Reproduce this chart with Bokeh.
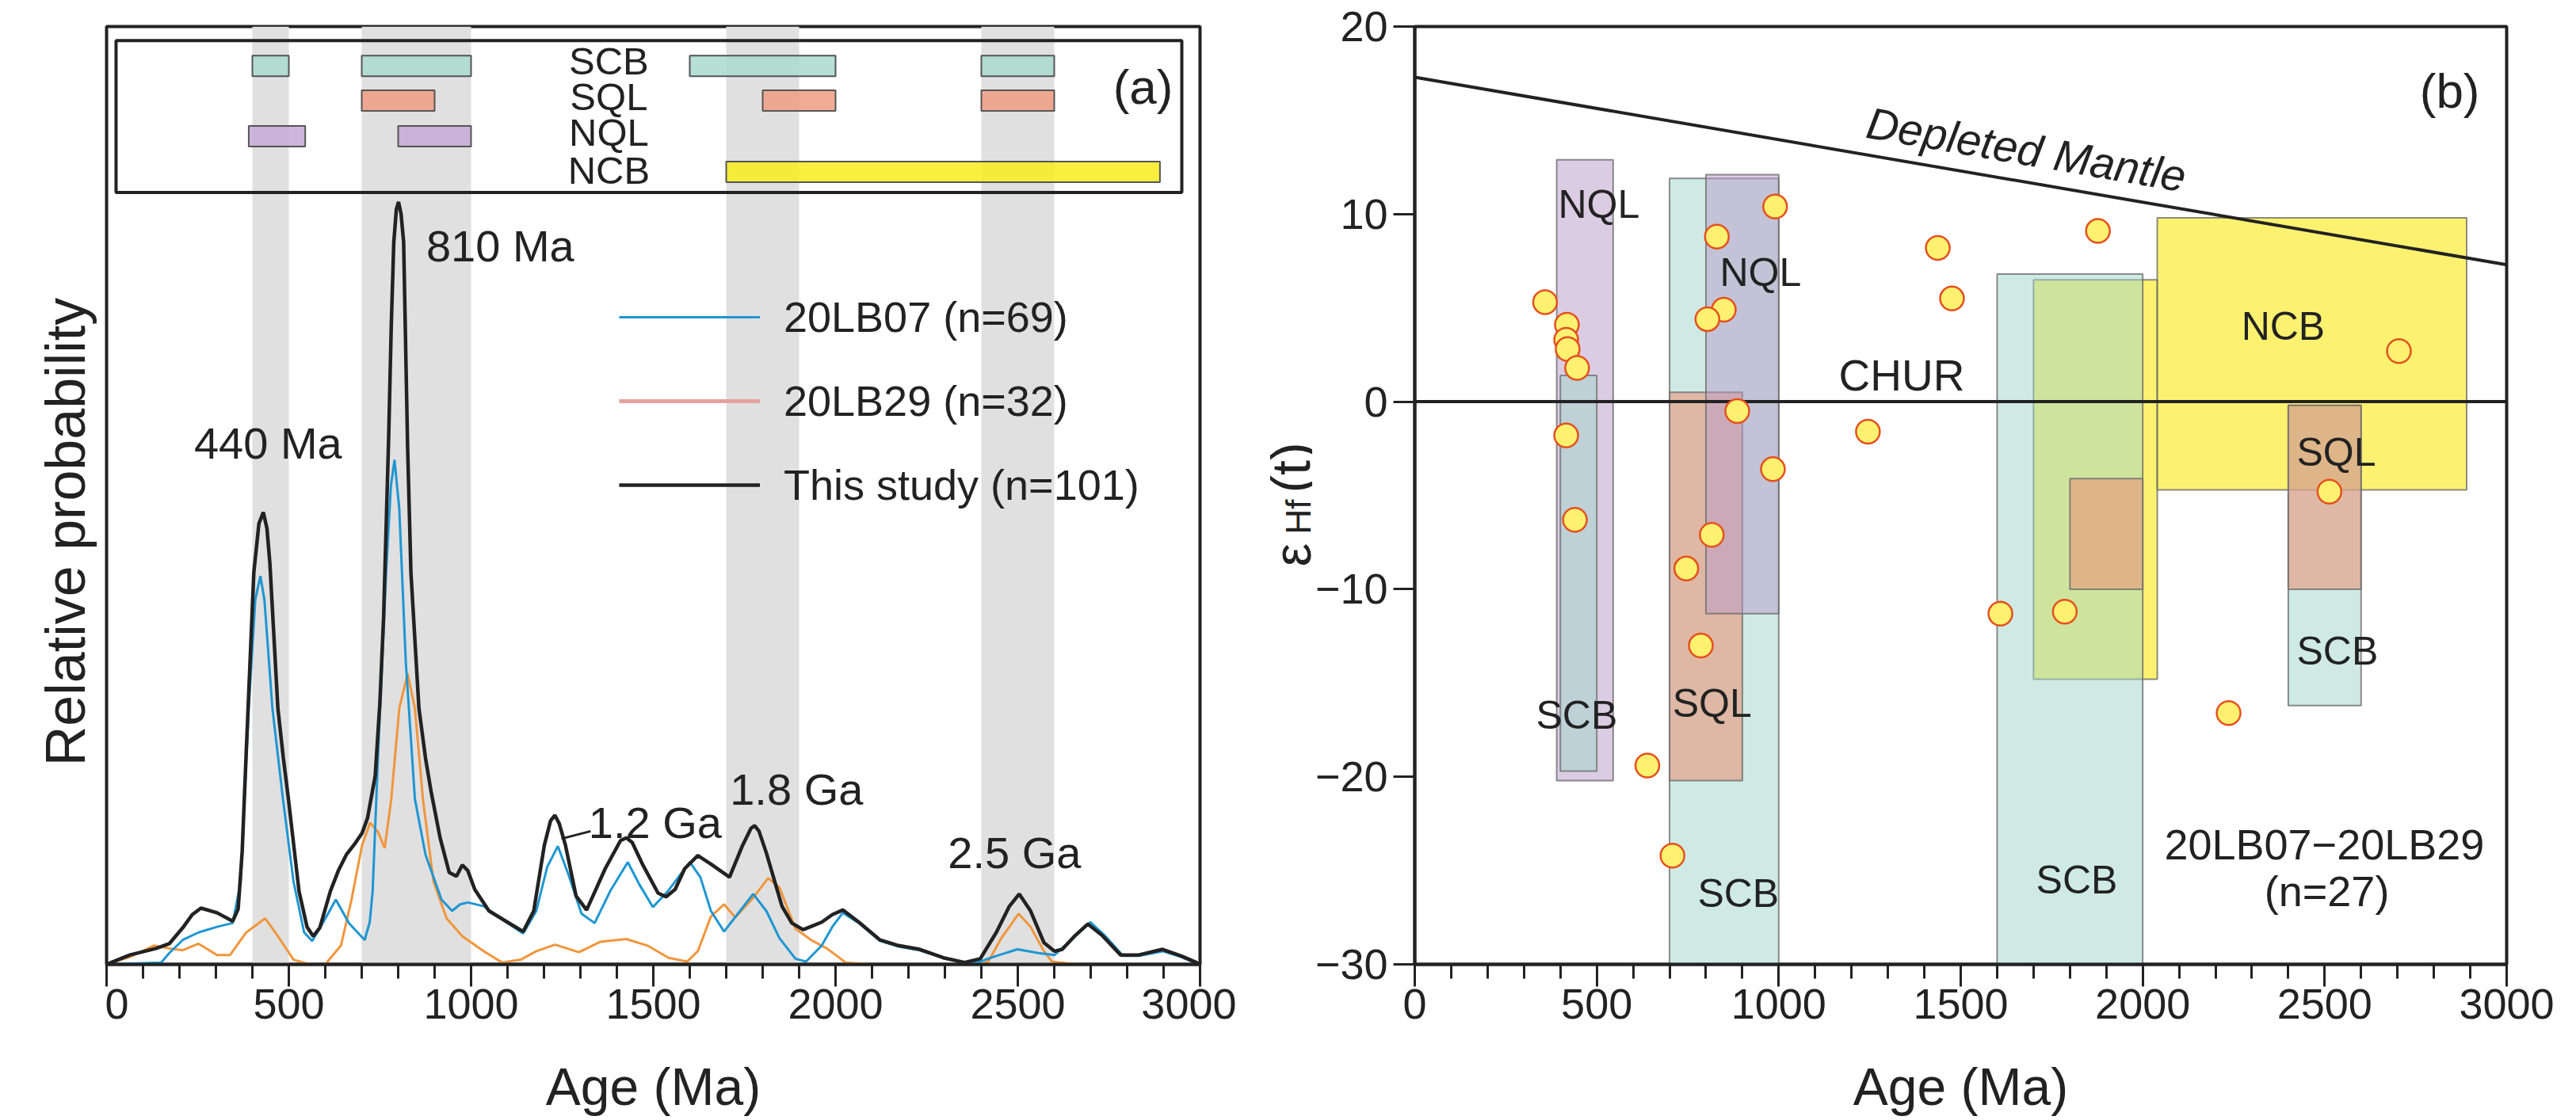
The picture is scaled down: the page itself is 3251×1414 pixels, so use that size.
import math
from bokeh.plotting import figure
from bokeh.models import (Range1d, SingleIntervalTicker, FixedTicker, Legend, LegendItem,
                          BoxAnnotation, ColumnDataSource)
from bokeh.layouts import row
from bokeh.embed import file_html
from bokeh.resources import INLINE
from bokeh.core.properties import value

FONT = "Liberation Sans"
INK = "#222222"

# ---------------- Panel (a) data: probability density curves ----------------
black_age = [0, 64, 136, 172, 209, 235, 259, 303, 346, 361, 372, 383, 404, 418, 430, 440, 448, 470, 485, 499,
             528, 550, 567, 585, 614, 636, 658, 680, 701, 716, 737, 750, 760, 774, 781, 788, 795, 801, 808, 815,
             826, 835, 857, 875, 890, 915, 940, 960, 976, 991, 1010, 1049, 1100, 1143, 1172, 1201, 1218, 1230,
             1242, 1259, 1288, 1317, 1368, 1410, 1426, 1442, 1470, 1513, 1535, 1560, 1586, 1622, 1658, 1709,
             1745, 1768, 1778, 1790, 1810, 1853, 1880, 1911, 1962, 1991, 2020, 2064, 2122, 2173, 2231, 2296,
             2354, 2397, 2441, 2477, 2504, 2535, 2572, 2601, 2622, 2658, 2692, 2731, 2782, 2832, 2897, 2948,
             2990, 3000]
black_prob = [0, 1.0, 1.7, 2.2, 3.9, 5.3, 6.0, 5.5, 4.6, 5.9, 12, 22.5, 41.8, 47, 48.2, 46.5, 42.8, 27.3, 22, 17.6,
              7.8, 4.0, 3.0, 3.9, 7.8, 10, 11.7, 12.8, 14.0, 15.6, 20.1, 28, 37, 56.3, 68, 77, 80.5, 81.3, 80, 77,
              55, 41.8, 27.3, 22, 18.5, 13.5, 9.8, 9.4, 10.6, 10.0, 8.0, 5.7, 4.5, 3.5, 5.7, 12.7, 15.3, 15.9,
              15.0, 12.7, 7.3, 5.8, 10.2, 13.2, 13.5, 13.0, 10.7, 7.6, 7.2, 8.0, 10.2, 11.6, 10.7, 9.3,
              12.7, 14.5, 14.8, 14.2, 11.9, 6.2, 4.4, 3.7, 4.5, 5.3, 5.8, 4.5, 2.6, 2.0, 1.6, 0.7,
              0.2, 0.6, 3.4, 6.2, 7.5, 5.7, 2.3, 1.4, 1.6, 3.1, 4.3, 3.1, 1.0, 1.0, 1.6, 0.9,
              0.2, 0]

blue_age = [0, 150, 172, 209, 252, 303, 346, 368, 390, 408, 422, 433, 455, 484, 513, 542, 564, 593, 629, 665,
            708, 722, 730, 745, 767, 780, 790, 803, 821, 846, 875, 919, 948, 970, 991, 1035, 1085, 1143, 1179,
            1209, 1238, 1267, 1303, 1339, 1383, 1430, 1462, 1499, 1542, 1600, 1629, 1658, 1694, 1738, 1774,
            1810, 1846, 1890, 1919, 1962, 1991, 2020, 2064, 2122, 2173, 2231, 2296, 2354, 2397, 2441, 2499,
            2557, 2601, 2658, 2699, 2738, 2789, 2832, 2897, 2948, 2990]
blue_prob = [0, 0.2, 1.2, 2.6, 3.4, 4.0, 4.4, 8.8, 27.3, 38.9, 41.4, 38.9, 27.3, 17.6, 8.8, 3.4, 2.5, 4.4, 6.9, 4.4,
             2.6, 4.5, 7.8, 22.5, 41.8, 51.0, 53.8, 48.6, 32.2, 17.6, 11.7, 6.9, 5.7, 6.4, 6.6, 6.2, 4.8, 3.3, 5.7,
             10.4, 12.6, 9.6, 5.4, 4.4, 7.9, 10.9, 8.5, 6.1, 7.9, 10.9, 9.3, 5.7, 3.5, 5.7, 7.5,
             5.7, 2.8, 0.6, 0.3, 2.0, 4.0, 5.5, 4.4, 2.5, 1.9, 1.5, 0.7, 0.2, 0.3, 0.9, 1.6,
             1.2, 1.0, 3.0, 4.5, 3.1, 0.9, 0.9, 1.4, 0.8, 0.1]

orange_age = [0, 64, 130, 172, 209, 252, 303, 339, 383, 435, 470, 513, 557, 600, 643, 672, 701, 723, 745, 763,
              781, 803, 826, 846, 868, 897, 933, 976, 1035, 1085, 1136, 1179, 1230, 1296, 1354, 1426, 1484,
              1542, 1593, 1622, 1658, 1694, 1725, 1774, 1815, 1846, 1890, 1933, 1976, 2004, 2027, 2100, 2400,
              2419, 2455, 2502, 2535, 2572, 2593, 2660]
orange_prob = [0, 0.8, 2.0, 1.7, 1.5, 2.2, 1.0, 1.0, 3.4, 4.9, 3.0, 0.5, 0, 0, 2.0, 6.9, 12.7, 15.1, 14.1, 12.4,
               17.6, 27.3, 31.0, 27.3, 17.6, 8.8, 4.9, 3.0, 1.4, 0.2, 0.5, 1.4, 2.1, 1.3, 2.4, 2.7, 2.0,
               0.7, 0.3, 1.4, 5.1, 6.4, 5.0, 7.1, 9.2, 8.2, 3.8, 2.6, 1.7, 0.9, 0.2, 0, 0,
               0.3, 2.8, 5.4, 4.0, 1.4, 0.3, 0]

band_start = [400, 700, 1700, 2400]
band_end = [500, 1000, 1900, 2600]

bar_field = ["SCB", "SCB", "SCB", "SCB", "SQL", "SQL", "SQL", "NQL", "NQL", "NCB"]
bar_start = [400, 700, 1600, 2400, 700, 1800, 2400, 390, 800, 1700]
bar_end = [500, 1000, 2000, 2600, 900, 2000, 2600, 545, 1000, 2890]
field_names = ["SCB", "SQL", "NQL", "NCB"]

peak_labels = ["440 Ma", "810 Ma", "1.2 Ga", "1.8 Ga", "2.5 Ga"]
peak_x = [443, 1080, 1505, 1893, 2491]
peak_y = [55.6, 76.6, 15.1, 18.7, 11.9]

# ---------------- Panel (b) data ----------------
hf_age = [358, 418, 416, 420, 446, 416, 440, 830, 990, 849, 804, 886, 984, 816, 1245, 1437, 1476, 1877,
          2704, 2513, 746, 786, 639, 708, 1609, 1786, 2236]
hf_eps = [5.3, 4.1, 3.3, 2.8, 1.8, -1.8, -6.3, 8.8, 10.4, 4.9, 4.4, -0.5, -3.6, -7.1, -1.6, 8.2, 5.5, 9.1,
          2.7, -4.8, -8.9, -13.0, -19.4, -24.2, -11.3, -11.2, -16.6]

dm_age = [0, 3000]
dm_eps = [17.3, 7.3]
chur_age = [0, 3000]
chur_eps = [0, 0]

box_field = ["NCB", "NCB", "SCB", "SCB", "SCB", "SQL", "SQL", "SQL", "NQL", "NQL", "SCB"]
box_left = [1700, 2040, 700, 1600, 2400, 700, 1800, 2400, 390, 800, 400]
box_right = [2040, 2890, 1000, 2000, 2600, 900, 2000, 2600, 545, 1000, 500]
box_bottom = [-14.8, -4.7, -30, -30, -16.2, -20.2, -10.0, -10.0, -20.2, -11.3, -19.7]
box_top = [6.5, 9.8, 11.9, 6.8, -0.2, 0.5, -4.1, -0.2, 12.9, 12.1, 1.4]

box_label = ["NQL", "NQL", "NCB", "SQL", "SCB", "SCB", "SQL", "SCB", "SCB"]
box_label_x = [394, 838, 2271, 2423, 2423, 333, 708, 777, 1707]
box_label_y = [10.5, 6.9, 4.0, -2.7, -13.3, -16.7, -16.1, -26.2, -25.5]

# ---------------- styling ----------------
bar_colors = {"SCB": "#a9d9cf", "SQL": "#ee9c83", "NQL": "#c5a8d5", "NCB": "#f7ec1c"}
box_colors = {"SCB": ("#9fd5c9", 0.5), "SQL": ("#e8967a", 0.6), "NQL": ("#b89ac8", 0.5), "NCB": ("#fbe800", 0.56)}
row_center = {"SCB": 95.8, "SQL": 92.1, "NQL": 88.3, "NCB": 84.5}
row_text_y = {"SCB": 96.3, "SQL": 92.5, "NQL": 88.7, "NCB": 84.7}
BAR_HALF = 1.1

TOP = 33
BOTTOM = 189
FRAME_H = 1184
FRAME_BOTTOM = TOP + FRAME_H  # layout pixel row of the x axes


def ly(y):
    """layout pixel row -> strip data coordinate (strip frames are aligned with the plot frames)"""
    return FRAME_BOTTOM - y


def style_common(p):
    p.outline_line_color = INK
    p.outline_line_width = 4
    p.outline_line_alpha = 1.0
    p.xgrid.visible = False
    p.ygrid.visible = False
    p.background_fill_color = "white"
    p.border_fill_color = "white"
    ax = p.xaxis[0]
    ax.ticker = SingleIntervalTicker(interval=500, num_minor_ticks=5)
    ax.axis_line_width = 4
    ax.axis_line_color = INK
    ax.major_tick_line_width = 3
    ax.major_tick_line_color = INK
    ax.major_tick_in = 0
    ax.major_tick_out = 28
    ax.minor_tick_line_width = 3
    ax.minor_tick_line_color = INK
    ax.minor_tick_in = 0
    ax.minor_tick_out = 18
    ax.major_label_text_font = FONT
    ax.major_label_text_font_size = "54px"
    ax.major_label_text_color = INK
    ax.major_label_standoff = 3
    ax.axis_label = "Age (Ma)"
    ax.axis_label_text_font = FONT
    ax.axis_label_text_font_size = "66px"
    ax.axis_label_text_font_style = "normal"
    ax.axis_label_text_color = INK
    ax.axis_label_standoff = 46


def text_panel(x0, x1):
    p = figure(width=x1 - x0, frame_height=FRAME_H, x_range=Range1d(x0, x1), y_range=Range1d(0, FRAME_H),
               output_backend="svg", toolbar_location=None, x_axis_type=None, y_axis_type=None,
               min_border_left=0, min_border_right=0, min_border_top=TOP, min_border_bottom=BOTTOM)
    p.outline_line_color = None
    p.xgrid.visible = False
    p.ygrid.visible = False
    p.background_fill_color = "white"
    p.border_fill_color = "white"
    return p


# ---------------- y title strip for (a) ----------------
pya = text_panel(0, 132)
pya.text(x=[82], y=[ly(671)], text=["Relative probability"], angle=math.pi / 2, text_align="center",
         text_baseline="alphabetic", text_font=value(FONT), text_font_size="70px", text_color=INK)

# ---------------- Panel (a) ----------------
p1 = figure(frame_width=1380, frame_height=FRAME_H, x_range=Range1d(0, 3000), y_range=Range1d(0, 100),
            output_backend="svg", toolbar_location=None, y_axis_type=None,
            min_border_left=2, min_border_right=46, min_border_top=TOP, min_border_bottom=BOTTOM)
style_common(p1)

p1.quad(left=band_start, right=band_end, bottom=0, top=100, fill_color="#e0e0e0", line_color=None)

bar_src = ColumnDataSource(dict(
    left=bar_start, right=bar_end,
    bottom=[row_center[f] - BAR_HALF for f in bar_field],
    top=[row_center[f] + BAR_HALF for f in bar_field],
    color=[bar_colors[f] for f in bar_field]))
p1.quad(left="left", right="right", bottom="bottom", top="top", fill_color="color", fill_alpha=0.85,
        line_color="#555555", line_width=2, source=bar_src)
p1.add_layout(BoxAnnotation(left=26, right=2950, bottom=82.3, top=98.5, fill_alpha=0,
                            line_color=INK, line_width=4, line_alpha=1))
p1.text(x=[1378] * 4, y=[row_text_y[f] for f in field_names], text=field_names,
        text_align="center", text_baseline="alphabetic", text_font=value(FONT),
        text_font_size="49px", text_color=INK)
p1.text(x=[2926], y=[93.6], text=["(a)"], text_align="right", text_baseline="alphabetic",
        text_font=value(FONT), text_font_size="62px", text_color=INK)

r_orange = p1.line(orange_age, orange_prob, line_color="#f0963c", line_width=3)
r_blue = p1.line(blue_age, blue_prob, line_color="#1e96d2", line_width=3)
r_black = p1.line(black_age, black_prob, line_color=INK, line_width=4.5)
r_pink = p1.line(x=orange_age[:1], y=orange_prob[:1], line_color="#e3a39c", line_width=5)

p1.text(x=peak_x, y=peak_y, text=peak_labels, text_align="center", text_baseline="alphabetic",
        text_font=value(FONT), text_font_size="56px", text_color=INK)
p1.segment(x0=[1248], y0=[13.4], x1=[1328], y1=[14.2], line_color=INK, line_width=3)

legend = Legend(items=[LegendItem(label="20LB07 (n=69)", renderers=[r_blue]),
                       LegendItem(label="20LB29 (n=32)", renderers=[r_pink]),
                       LegendItem(label="This study (n=101)", renderers=[r_black])],
                location=(647, 573), orientation="vertical",
                glyph_width=178, glyph_height=64, label_height=64, label_standoff=30,
                spacing=42, padding=0, margin=0,
                border_line_alpha=0, background_fill_alpha=0,
                label_text_font=FONT, label_text_font_size="54px", label_text_color=INK)
p1.add_layout(legend)

# ---------------- y title strip for (b): epsilon_Hf(t) ----------------
pyb = text_panel(1560, 1656)
pyb.text(x=[1630, 1638, 1628], y=[ly(700), ly(652), ly(590)], text=["\u03b5", "Hf", "(t)"],
         text_font_size=["66px", "44px", "68px"], angle=math.pi / 2, text_align="center",
         text_baseline="alphabetic", text_font=value(FONT), text_color=INK)

# ---------------- Panel (b) ----------------
p2 = figure(frame_width=1378, frame_height=FRAME_H, x_range=Range1d(0, 3000), y_range=Range1d(-30, 20),
            output_backend="svg", toolbar_location=None,
            min_border_left=127, min_border_right=82, min_border_top=TOP, min_border_bottom=BOTTOM)
style_common(p2)
yb = p2.yaxis[0]
yb.ticker = FixedTicker(ticks=[-30, -20, -10, 0, 10, 20])
yb.axis_line_width = 4
yb.axis_line_color = INK
yb.major_tick_line_width = 3
yb.major_tick_line_color = INK
yb.major_tick_in = 0
yb.major_tick_out = 27
yb.minor_tick_line_color = None
yb.major_label_text_font = FONT
yb.major_label_text_font_size = "54px"
yb.major_label_text_color = INK
yb.major_label_standoff = 7
yb.major_label_overrides = {-30: "\u221230", -20: "\u221220", -10: "\u221210"}

for f, l, r, b, t in zip(box_field, box_left, box_right, box_bottom, box_top):
    col, alpha = box_colors[f]
    p2.quad(left=[l], right=[r], bottom=[b], top=[t], fill_color=col, fill_alpha=alpha,
            line_color="#6f6f6f", line_alpha=0.8, line_width=2)

p2.line(chur_age, chur_eps, line_color=INK, line_width=4)
p2.line(dm_age, dm_eps, line_color=INK, line_width=4)

p2.text(x=box_label_x, y=box_label_y, text=box_label, text_align="left", text_baseline="alphabetic",
        text_font=value(FONT), text_font_size="50px", text_color=INK)
p2.text(x=[1165], y=[1.4], text=["CHUR"], text_align="left", text_baseline="alphabetic",
        text_font=value(FONT), text_font_size="55px", text_color=INK)
p2.text(x=[1243], y=[14.9], text=["Depleted Mantle"], angle=-0.1703, text_align="left",
        text_baseline="alphabetic", text_font=value(FONT), text_font_size="56px",
        text_font_style="italic", text_color=INK)
p2.text(x=[2499, 2506], y=[-23.6, -26.1], text=["20LB07\u221220LB29", "(n=27)"], text_align="center",
        text_baseline="alphabetic", text_font=value(FONT), text_font_size="54px", text_color=INK)
p2.text(x=[2926], y=[16.6], text=["(b)"], text_align="right", text_baseline="alphabetic",
        text_font=value(FONT), text_font_size="62px", text_color=INK)

p2.scatter(hf_age, hf_eps, size=30, fill_color="#fff170", line_color="#e5501e", line_width=2.5)

layout = row(pya, p1, pyb, p2)
open("out.html", "w").write(file_html(layout, INLINE))
